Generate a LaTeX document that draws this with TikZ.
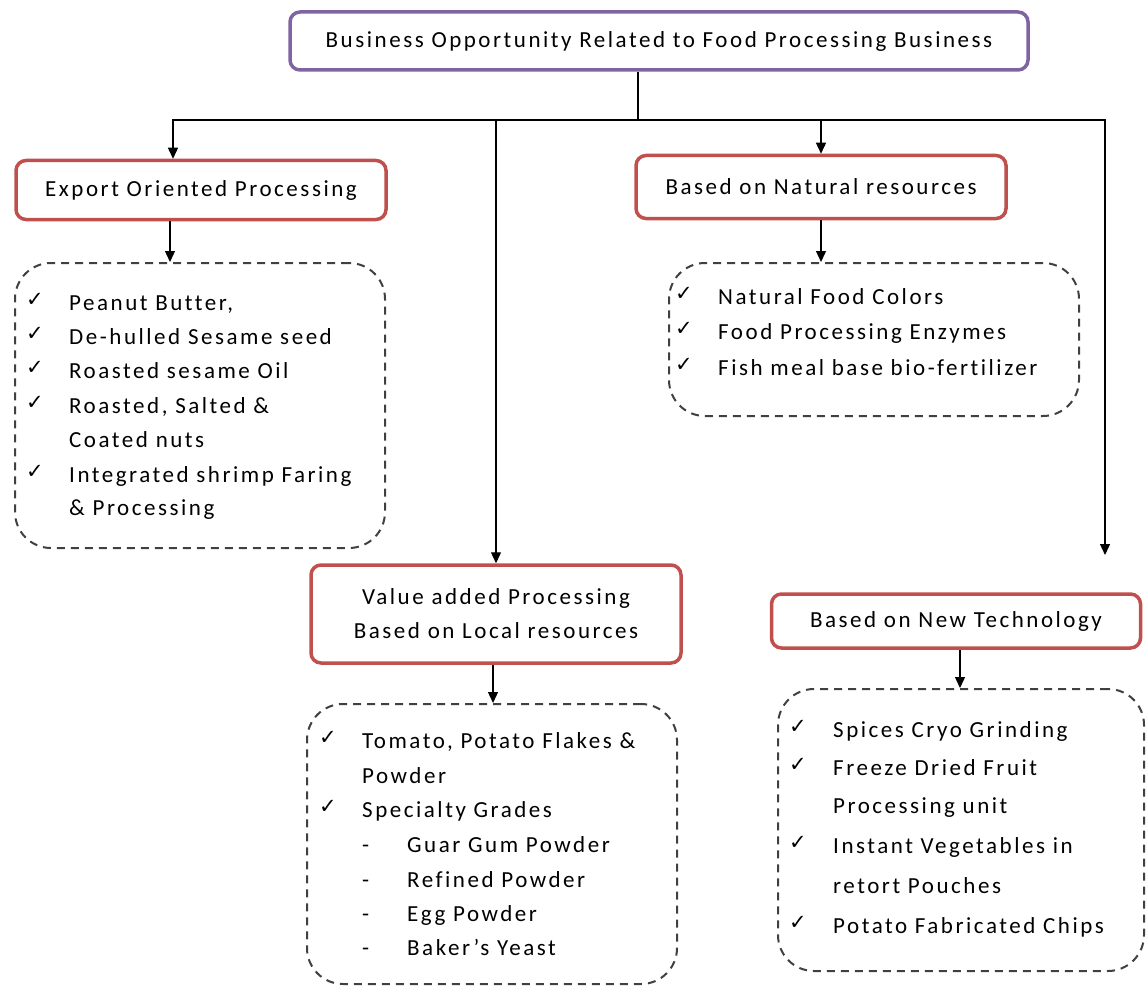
\documentclass[tikz,border=0pt]{standalone}
\usepackage{fontspec}
\setmainfont{Carlito}[LetterSpace=11,Ligatures=NoCommon]
\newfontfamily\dvfont{DejaVu Sans}
\usetikzlibrary{arrows.meta}
\definecolor{purp}{HTML}{8064A2}
\definecolor{redb}{HTML}{C0504D}
\definecolor{dashgray}{HTML}{404040}
\begin{document}
\begin{tikzpicture}[x=1pt,y=-1pt,
  head/.style={draw=redb, line width=3.5pt, rounded corners=10pt, fill=white, inner sep=0pt, align=center, font=\fontsize{23}{34}\selectfont},
  topbox/.style={head, draw=purp},
  listbox/.style={draw=dashgray, line width=2pt, dash pattern=on 8pt off 6pt, rounded corners=36pt, inner sep=0pt},
  arr/.style={draw=black, line width=1.3pt, -{Triangle[length=11pt,width=10pt]}},
  item/.style={anchor=base west, inner sep=0pt, font=\fontsize{23}{28}\selectfont},
  chk/.style={anchor=base west, inner sep=0pt, font=\dvfont\fontsize{21}{24}\selectfont},
]
\useasboundingbox (0,0) rectangle (1147,987);

% heading boxes
\node[topbox, minimum width=738pt, minimum height=58pt] (top) at (659,41) {Business Opportunity Related to Food Processing Business};
\node[head, minimum width=370pt, minimum height=59pt] (exp) at (201,190) {Export Oriented Processing};
\node[head, minimum width=370pt, minimum height=63pt] (nat) at (821,187) {Based on Natural resources};
\node[head, minimum width=370pt, minimum height=98pt] (val) at (496,614) {Value added Processing\\Based on Local resources};
\node[head, minimum width=369pt, minimum height=54pt] (new) at (956,621) {Based on New Technology};

% list boxes
\node[listbox, minimum width=370pt, minimum height=285pt] (L1) at (200,405.5) {};
\node[listbox, minimum width=410pt, minimum height=153pt] (L2) at (874,339.5) {};
\node[listbox, minimum width=370pt, minimum height=280pt] (L3) at (492,844) {};
\node[listbox, minimum width=366pt, minimum height=282pt] (L4) at (961,830) {};

% connectors
\coordinate (bus) at (638,120);
\coordinate (newend) at (1105,555);
\draw[line width=1.3pt] (top.south -| bus) -- (bus);
\draw[arr] (bus) -| ([xshift=-28pt]exp.north);
\draw[arr] (bus) -| (val.north);
\draw[arr] (bus) -| (nat.north);
\draw[arr] (bus) -| (newend);
\draw[arr] ([xshift=-31pt]exp.south) -- ([xshift=-31pt]exp.south |- L1.north);
\draw[arr] (nat.south) -- (nat.south |- L2.north);
\draw[arr] ([xshift=-3pt]val.south) -- ([xshift=-3pt]val.south |- L3.north);
\draw[arr] ([xshift=4pt]new.south) -- ([xshift=4pt]new.south |- L4.north);

% list 1
\node[chk] (c11) at (26,306) {✓};
\node[item] (t11) at (69,310) {Peanut Butter,};
\node[chk] (c12) at (26,340) {✓};
\node[item] (t12) at (69,344) {De-hulled Sesame seed};
\node[chk] (c13) at (26,374) {✓};
\node[item] (t13) at (69,378) {Roasted sesame Oil};
\node[chk] (c14) at (26,409) {✓};
\node[item] (t14) at (69,413) {Roasted, Salted \&};
\node[item] (t15) at (69,447) {Coated nuts};
\node[chk] (c16) at (26,478) {✓};
\node[item] (t16) at (69,482) {Integrated shrimp Faring};
\node[item] (t17) at (69,515) {\& Processing};

% list 2
\node[chk] (c21) at (675,300) {✓};
\node[item] (t21) at (718,304) {Natural Food Colors};
\node[chk] (c22) at (675,335) {✓};
\node[item] (t22) at (718,339) {Food Processing Enzymes};
\node[chk] (c23) at (675,371) {✓};
\node[item] (t23) at (718,375) {Fish meal base bio-fertilizer};

% list 3
\node[chk] (c31) at (319,744) {✓};
\node[item] (t31) at (362,748) {Tomato, Potato Flakes \&};
\node[item] (t32) at (362,783) {Powder};
\node[chk] (c33) at (319,813) {✓};
\node[item] (t33) at (362,817) {Specialty Grades};
\node[item] (d34) at (362,852) {-};
\node[item] (t34) at (407,852) {Guar Gum Powder};
\node[item] (d35) at (362,887) {-};
\node[item] (t35) at (407,887) {Refined Powder};
\node[item] (d36) at (362,921) {-};
\node[item] (t36) at (407,921) {Egg Powder};
\node[item] (d37) at (362,955) {-};
\node[item] (t37) at (407,955) {Baker’s Yeast};

% list 4
\node[chk] (c41) at (789,733) {✓};
\node[item] (t41) at (833,737) {Spices Cryo Grinding};
\node[chk] (c42) at (789,771) {✓};
\node[item] (t42) at (833,775) {Freeze Dried Fruit};
\node[item] (t43) at (833,813) {Processing unit};
\node[chk] (c44) at (789,849) {✓};
\node[item] (t44) at (833,853) {Instant Vegetables in};
\node[item] (t45) at (833,893) {retort Pouches};
\node[chk] (c46) at (789,929) {✓};
\node[item] (t46) at (833,933) {Potato Fabricated Chips};
\end{tikzpicture}
\end{document}
